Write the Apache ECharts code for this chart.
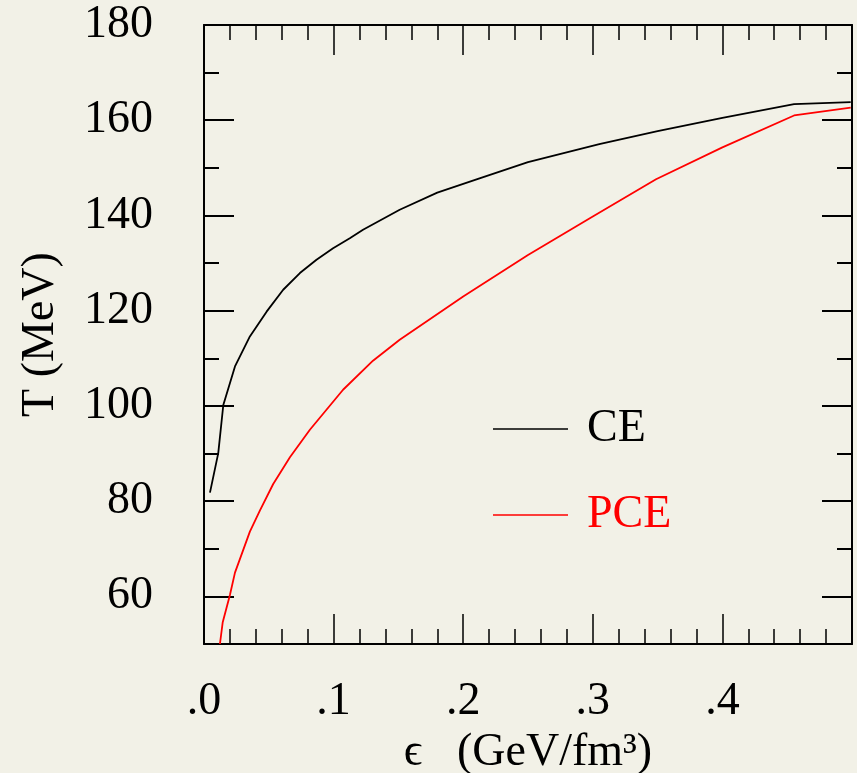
<!DOCTYPE html>
<html>
<head>
<meta charset="utf-8">
<script src="https://cdn.jsdelivr.net/npm/echarts@6/dist/echarts.min.js"></script>
<style>
  html, body { margin: 0; padding: 0; background: #f2f1e7; }
  #chart { width: 857px; height: 773px; }
</style>
</head>
<body>
<div id="chart"></div>
<script>
// Energy density (GeV/fm^3) vs temperature (MeV) for chemical equilibrium (CE)
// and partial chemical equilibrium (PCE)
const ceEps = [0.0046, 0.011, 0.0149, 0.0239, 0.0354, 0.0483, 0.0611, 0.074, 0.0868, 0.0996,
               0.1125, 0.1227, 0.151, 0.18, 0.2126, 0.25, 0.305, 0.35, 0.40, 0.4553, 0.499];
const ceT   = [81.8, 90.1, 100.2, 108.3, 114.6, 119.8, 124.4, 127.9, 130.7, 133.1,
               135.2, 137.0, 141.2, 144.8, 147.8, 151.2, 155.0, 157.7, 160.5, 163.4, 163.8];

const pceEps = [0.0123, 0.0144, 0.020, 0.0239, 0.0354, 0.0431, 0.0534, 0.0663, 0.0817, 0.1073,
                0.1304, 0.151, 0.2, 0.25, 0.3, 0.3488, 0.40, 0.4553, 0.499];
const pceT   = [50.0, 54.5, 60.3, 65.0, 73.6, 78.0, 83.6, 89.2, 95.0, 103.4,
                109.5, 113.9, 123.0, 131.7, 139.8, 147.6, 154.3, 161.0, 162.65];

const xTickValues = [0, 0.1, 0.2, 0.3, 0.4];
const xTickLabels = ['.0', '.1', '.2', '.3', '.4'];
const yTickLabels = [60, 80, 100, 120, 140, 160, 180];
const yMinorTicks = [50, 60, 70, 80, 90, 100, 110, 120, 130, 140, 150, 160, 170, 180];

const FONT = '"Liberation Serif", "DejaVu Serif", serif';
const INK = '#000000';
const RED = '#ff0000';

const toPairs = (xs, ys) => xs.map((x, i) => [x, ys[i]]);

const frameLine = { show: true, lineStyle: { color: INK, width: 2 } };

function xAxisDef(position, withLabels) {
  return {
    type: 'value', position, min: 0, max: 0.5, interval: 0.1,
    axisLine: frameLine,
    axisTick: { show: true, inside: true, length: 30, lineStyle: { color: INK, width: 1.5 } },
    minorTick: { show: true, splitNumber: 5, length: 15, lineStyle: { color: INK, width: 1.5 } },
    splitLine: { show: false }, minorSplitLine: { show: false },
    axisLabel: withLabels ? {
      show: true, margin: 35, fontFamily: FONT, fontSize: 46, color: INK,
      formatter: v => {
        const i = xTickValues.findIndex(t => Math.abs(t - v) < 1e-9);
        return i >= 0 ? xTickLabels[i] : '';
      }
    } : { show: false },
    name: withLabels ? 'ϵ   (GeV/fm³)' : '',
    nameLocation: 'middle', nameGap: 77,
    nameTextStyle: { fontFamily: FONT, fontSize: 46, color: INK }
  };
}

function yMinorAxis(position) {
  return {
    type: 'value', position, min: 50, max: 180, interval: 10,
    axisLine: frameLine,
    axisTick: { show: true, inside: true, length: 15, customValues: yMinorTicks,
                lineStyle: { color: INK, width: 2 } },
    axisLabel: { show: false }, splitLine: { show: false }
  };
}

function yMajorAxis(position, withLabels) {
  return {
    type: 'value', position, min: 50, max: 180, interval: 10,
    axisLine: { show: false },
    axisTick: { show: true, inside: true, length: 30, customValues: yTickLabels,
                lineStyle: { color: INK, width: 2 } },
    axisLabel: withLabels ? {
      show: true, margin: 51, fontFamily: FONT, fontSize: 46, color: INK,
      customValues: yTickLabels
    } : { show: false },
    splitLine: { show: false },
    name: withLabels ? 'T (MeV)' : '',
    nameLocation: 'middle', nameGap: 140, nameRotate: 90,
    nameTextStyle: { fontFamily: FONT, fontSize: 46, color: INK }
  };
}

function legendDef(name, color, top) {
  return {
    data: [{ name, textStyle: { color } }],
    left: 493, top, padding: 0,
    icon: 'rect', itemWidth: 75, itemHeight: 1.5,
    textStyle: { fontFamily: FONT, fontSize: 46, color, padding: [0, 0, 0, 14] },
    selectedMode: false
  };
}

const chart = echarts.init(document.getElementById('chart'), null, { renderer: 'canvas' });
chart.setOption({
  backgroundColor: '#f2f1e7',
  animation: false,
  grid: { left: 204, top: 25, right: 5, bottom: 129, containLabel: false, outerBoundsMode: 'none' },
  xAxis: [xAxisDef('bottom', true), xAxisDef('top', false)],
  yAxis: [yMinorAxis('left'), yMajorAxis('left', true), yMinorAxis('right'), yMajorAxis('right', false)],
  legend: [legendDef('CE', INK, 406), legendDef('PCE', RED, 492)],
  series: [
    {
      name: 'CE', type: 'line', xAxisIndex: 0, yAxisIndex: 0,
      data: toPairs(ceEps, ceT), symbol: 'none', smooth: false,
      color: INK, lineStyle: { color: INK, width: 1.8 }
    },
    {
      name: 'PCE', type: 'line', xAxisIndex: 0, yAxisIndex: 0,
      data: toPairs(pceEps, pceT), symbol: 'none', smooth: false,
      color: RED, lineStyle: { color: RED, width: 1.8 }
    }
  ]
});
</script>
</body>
</html>
